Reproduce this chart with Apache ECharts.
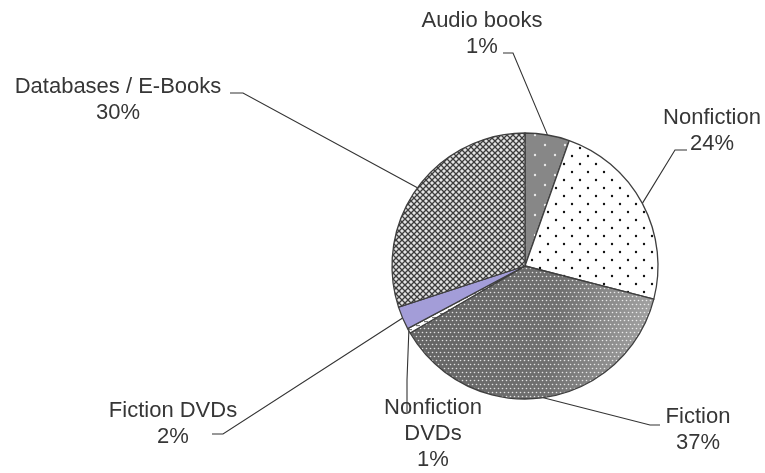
<!DOCTYPE html>
<html>
<head>
<meta charset="utf-8">
<script src="https://cdn.jsdelivr.net/npm/echarts@6/dist/echarts.min.js"></script>
<style>
    html, body {margin: 0; background: #fff;}
    #main {width: 765px; height: 473px;}
</style>
</head>
<body>
<div id="main"></div>
<script>
// clockwise from 12 o'clock
var categories = ['Audio books', 'Nonfiction', 'Fiction', 'Nonfiction DVDs', 'Fiction DVDs', 'Databases / E-Books'];
// slice sizes as drawn (estimated from the angles)
var sliceValues = [5.4, 23.6, 37.6, 0.6, 2.8, 30.0];
// percentages printed in the labels
var labelPercents = ['1%', '24%', '37%', '1%', '2%', '30%'];
var labelNames = ['Audio books', 'Nonfiction', 'Fiction', 'Nonfiction\nDVDs', 'Fiction DVDs', 'Databases / E-Books'];

// label block centre + leader elbow/end
var labelSpots = [
    {x: 482, y: 34,  elbow: [513, 53],  end: [503, 53]},
    {x: 712, y: 131, elbow: [675, 150], end: [687, 150]},
    {x: 698, y: 430, elbow: [650, 425], end: [660, 425]},
    {x: 433, y: 434, elbow: [407, 380], end: [407, 412]},
    {x: 173, y: 424, elbow: [223, 434], end: [212, 434]},
    {x: 118, y: 100, elbow: [243, 93],  end: [230, 93]}
];

function tile(w, h, bg, draw){
    var c = document.createElement('canvas');
    c.width = w; c.height = h;
    var g = c.getContext('2d');
    if(bg){ g.fillStyle = bg; g.fillRect(0, 0, w, h); }
    if(draw){ draw(g); }
    return c;
}
function dot(g, x, y, r, color){
    g.fillStyle = color;
    g.beginPath(); g.arc(x, y, r, 0, Math.PI * 2); g.fill();
}

// audio books: dark grey, sparse white dots
var audioTile = tile(20, 20, '#878787', function(g){
    dot(g, 5, 5, 1.2, '#e8e8e8');
    dot(g, 15, 15, 1.2, '#e8e8e8');
});
// nonfiction: white, black dots
var nonfictionTile = tile(16, 16, '#ffffff', function(g){
    dot(g, 4, 4, 1.2, '#111');
    dot(g, 12, 12, 1.2, '#111');
});
// fiction: grey shading with dense white dots
var fictionTile = tile(765, 473, null, function(g){
    var grad = g.createLinearGradient(430, 300, 660, 330);
    grad.addColorStop(0, '#656565');
    grad.addColorStop(0.55, '#707070');
    grad.addColorStop(1, '#a8a8a8');
    g.fillStyle = grad;
    g.fillRect(0, 0, 765, 473);
    for(var y = 0; y < 473; y += 4){
        for(var x = ((y / 4) % 2) * 2; x < 765; x += 4){
            dot(g, x + 0.5, y + 0.5, 0.8, 'rgba(255,255,255,0.8)');
        }
    }
});
// nonfiction dvds: white with grey dashes
var nfDvdTile = tile(8, 4, '#ffffff', function(g){
    g.fillStyle = '#777';
    g.fillRect(0, 1, 4, 1.2);
});
// databases: diamond lattice
var dbTile = tile(6, 6, '#e4e4e4', function(g){
    g.strokeStyle = '#3c3c3c';
    g.lineWidth = 1.3;
    g.beginPath();
    g.moveTo(0, 0); g.lineTo(6, 6);
    g.moveTo(6, 0); g.lineTo(0, 6);
    g.stroke();
});

var fills = [
    {image: audioTile, repeat: 'repeat'},
    {image: nonfictionTile, repeat: 'repeat'},
    {image: fictionTile, repeat: 'repeat'},
    {image: nfDvdTile, repeat: 'repeat'},
    '#a39dd8',
    {image: dbTile, repeat: 'repeat'}
];

var pieData = [];
for(var i = 0; i < categories.length; i++){
    pieData.push({
        name: categories[i],
        value: sliceValues[i],
        itemStyle: {color: fills[i]}
    });
}

var myChart = echarts.init(document.getElementById('main'), null, {renderer: 'canvas'});
var option = {
    animation: false,
    backgroundColor: '#ffffff',
    series: [{
        type: 'pie',
        center: [525, 266],
        radius: 133,
        startAngle: 90,
        clockwise: true,
        avoidLabelOverlap: false,
        silent: true,
        data: pieData,
        itemStyle: {
            borderColor: '#3f3f3f',
            borderWidth: 1.3
        },
        label: {
            show: true,
            position: 'outside',
            fontFamily: 'Liberation Sans',
            fontSize: 22,
            lineHeight: 26,
            color: '#363636',
            align: 'center',
            formatter: function(p){
                return labelNames[p.dataIndex] + '\n' + labelPercents[p.dataIndex];
            }
        },
        labelLine: {
            show: true,
            lineStyle: {color: '#333', width: 1.1}
        },
        labelLayout: function(p){
            var s = labelSpots[p.dataIndex];
            var start = p.labelLinePoints ? p.labelLinePoints[0] : s.elbow;
            return {
                x: s.x,
                y: s.y,
                align: 'center',
                verticalAlign: 'middle',
                labelLinePoints: [start, s.elbow, s.end]
            };
        }
    }]
};
myChart.setOption(option);
</script>
</body>
</html>
